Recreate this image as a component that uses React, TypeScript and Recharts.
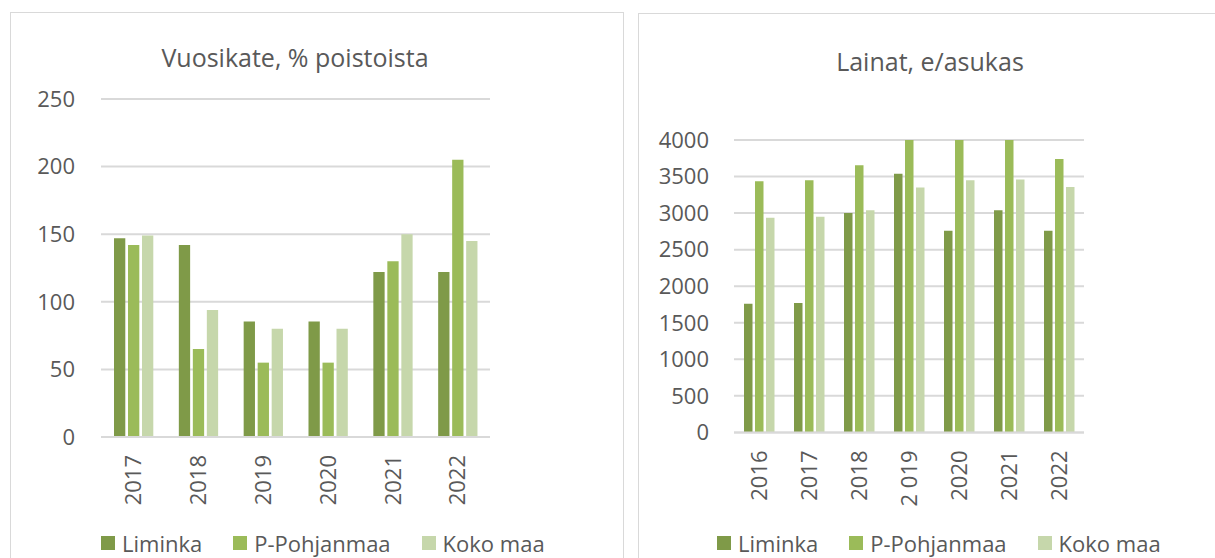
import React from 'react';
import { BarChart, Bar, XAxis, YAxis, CartesianGrid, Legend } from 'recharts';

const leftYears = ['2017', '2018', '2019', '2020', '2021', '2022'];
const leftLiminka = [147, 142, 85.5, 85.5, 122, 122];
const leftPohjanmaa = [142, 65, 55, 55, 130, 205];
const leftKokoMaa = [149, 94, 80, 80, 150, 145];
const leftTicks = [0, 50, 100, 150, 200, 250];

const rightYears = ['2016', '2017', '2018', '2 019', '2020', '2021', '2022'];
const rightLiminka = [1760, 1770, 3000, 3540, 2760, 3040, 2760];
const rightPohjanmaa = [3435, 3450, 3655, 4000, 4000, 4000, 3740];
const rightKokoMaa = [2935, 2950, 3040, 3350, 3450, 3460, 3358];
const rightTicks = [0, 500, 1000, 1500, 2000, 2500, 3000, 3500, 4000];

const seriesNames = ['Liminka', 'P-Pohjanmaa', 'Koko maa'];
const colors = ['#7f9a48', '#9bbb59', '#c6d7ab'];

const FONT = '"Open Sans", sans-serif';
const TEXT = '#595959';
const GRID = '#d9d9d9';

const leftData = leftYears.map((year, i) => ({
  year,
  Liminka: leftLiminka[i],
  'P-Pohjanmaa': leftPohjanmaa[i],
  'Koko maa': leftKokoMaa[i],
}));

const rightData = rightYears.map((year, i) => ({
  year,
  Liminka: rightLiminka[i],
  'P-Pohjanmaa': rightPohjanmaa[i],
  'Koko maa': rightKokoMaa[i],
}));

const RotatedTick = (props: any) => {
  const { x, y, payload } = props;
  return (
    <text
      x={x}
      y={y}
      transform={`rotate(-90, ${x}, ${y})`}
      textAnchor="end"
      dy="0.36em"
      fill={TEXT}
      fontSize={22}
      fontFamily={FONT}
    >
      {payload.value}
    </text>
  );
};

const LegendContent = () => (
  <div style={{ display: 'flex', height: 24, alignItems: 'center', whiteSpace: 'nowrap' }}>
    {seriesNames.map((name, i) => (
      <div key={name} style={{ display: 'flex', alignItems: 'center', marginRight: 31 }}>
        <span style={{ width: 14, height: 14, background: colors[i], marginRight: 7, display: 'inline-block' }} />
        <span style={{ fontSize: 22, color: TEXT, fontFamily: FONT, lineHeight: '24px' }}>{name}</span>
      </div>
    ))}
  </div>
);

const Panel = ({ left, top, width }: { left: number; top: number; width: number }) => (
  <div
    style={{
      position: 'absolute',
      left,
      top,
      width,
      height: 600,
      border: `1.5px solid ${GRID}`,
      boxSizing: 'border-box',
      background: '#fff',
    }}
  />
);

const Title = ({ text, cx, top }: { text: string; cx: number; top: number }) => (
  <div
    style={{
      position: 'absolute',
      left: cx - 200,
      width: 400,
      top,
      textAlign: 'center',
      fontSize: 25,
      lineHeight: '25px',
      color: TEXT,
      fontFamily: FONT,
    }}
  >
    {text}
  </div>
);

export default function App() {
  return (
    <div
      style={{
        position: 'absolute',
        left: 0,
        top: 0,
        width: 1215,
        height: 558,
        overflow: 'hidden',
        background: '#fff',
        fontFamily: FONT,
      }}
    >
      <Panel left={10} top={12} width={614} />
      <Panel left={638} top={13} width={600} />
      <Title text="Vuosikate, % poistoista" cx={295} top={45} />
      <Title text="Lainat, e/asukas" cx={930} top={49} />

      <div style={{ position: 'absolute', left: 0, top: 0 }}>
        <BarChart
          width={623}
          height={558}
          data={leftData}
          margin={{ top: 99, right: 133, bottom: 61, left: 0 }}
          barGap={2.7}
        >
          <CartesianGrid vertical={false} stroke={GRID} strokeWidth={2} />
          <XAxis
            dataKey="year"
            height={60}
            axisLine={{ stroke: GRID, strokeWidth: 2 }}
            tickLine={false}
            tickSize={0}
            tickMargin={18}
            interval={0}
            tick={<RotatedTick />}
          />
          <YAxis
            width={101}
            domain={[0, 250]}
            ticks={leftTicks}
            axisLine={false}
            tickLine={false}
            tickSize={0}
            tickMargin={26}
            tick={{ fill: TEXT, fontSize: 22, fontFamily: FONT }}
          />
          {seriesNames.map((name, i) => (
            <Bar key={name} dataKey={name} fill={colors[i]} barSize={11.3} isAnimationActive={false} />
          ))}
          <Legend
            layout="horizontal"
            verticalAlign="middle"
            align="center"
            content={<LegendContent />}
            wrapperStyle={{ left: 101, top: 531, right: 'auto', bottom: 'auto', width: 'auto' }}
          />
        </BarChart>
      </div>

      <div style={{ position: 'absolute', left: 620, top: 0 }}>
        <BarChart
          width={595}
          height={558}
          data={rightData}
          margin={{ top: 140, right: 131, bottom: 65.6, left: 0 }}
          barGap={2.5}
        >
          <CartesianGrid vertical={false} stroke={GRID} strokeWidth={2} />
          <XAxis
            dataKey="year"
            height={60}
            axisLine={{ stroke: GRID, strokeWidth: 2 }}
            tickLine={false}
            tickSize={0}
            tickMargin={18}
            interval={0}
            tick={<RotatedTick />}
          />
          <YAxis
            width={114}
            domain={[0, 4000]}
            ticks={rightTicks}
            allowDataOverflow
            axisLine={false}
            tickLine={false}
            tickSize={0}
            tickMargin={25}
            tick={{ fill: TEXT, fontSize: 22, fontFamily: FONT }}
          />
          {seriesNames.map((name, i) => (
            <Bar key={name} dataKey={name} fill={colors[i]} barSize={8.5} isAnimationActive={false} />
          ))}
          <Legend
            layout="horizontal"
            verticalAlign="middle"
            align="center"
            content={<LegendContent />}
            wrapperStyle={{ left: 97, top: 531, right: 'auto', bottom: 'auto', width: 'auto' }}
          />
        </BarChart>
      </div>
    </div>
  );
}
